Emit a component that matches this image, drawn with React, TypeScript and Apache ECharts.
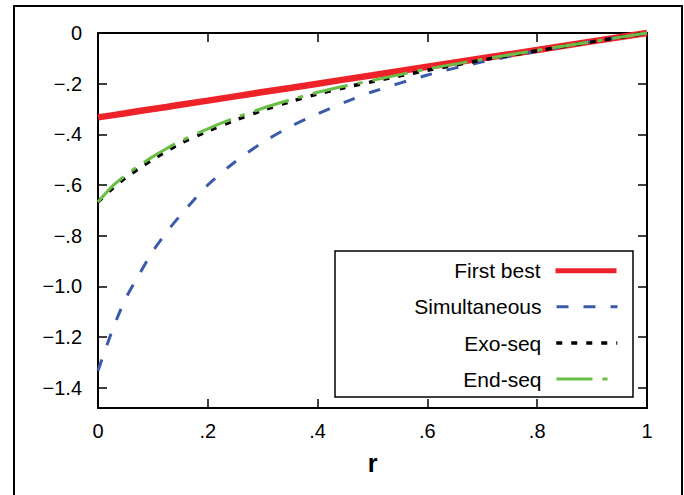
import React, { useEffect, useRef } from "react";
import * as echarts from "echarts";

const FONT = '"Liberation Sans", Arial, Helvetica, sans-serif';

// r values (x axis)
const rValues = [0, 0.025, 0.05, 0.075, 0.1, 0.125, 0.15, 0.2, 0.25, 0.3, 0.35, 0.4, 0.45, 0.5, 0.6, 0.7, 0.8, 0.9, 1];

// series values
const firstBest = [-0.333, -0.325, -0.317, -0.308, -0.3, -0.292, -0.283, -0.267, -0.25, -0.233, -0.217, -0.2, -0.183, -0.167, -0.133, -0.1, -0.067, -0.033, 0];
const simultaneous = [-1.333, -1.18, -1.05, -0.953, -0.861, -0.786, -0.72, -0.6, -0.508, -0.432, -0.37, -0.319, -0.273, -0.232, -0.166, -0.114, -0.072, -0.034, 0];
const exoSeq = [-0.667, -0.616, -0.572, -0.534, -0.499, -0.466, -0.436, -0.387, -0.344, -0.305, -0.271, -0.241, -0.215, -0.192, -0.147, -0.107, -0.07, -0.035, 0];
const endSeq = [-0.667, -0.607, -0.562, -0.523, -0.488, -0.456, -0.427, -0.378, -0.335, -0.297, -0.264, -0.234, -0.209, -0.187, -0.142, -0.104, -0.068, -0.034, 0];

const seriesNames = ["First best", "Simultaneous", "Exo-seq", "End-seq"];

// tick labels
const xTickLabels = ["0", ".2", ".4", ".6", ".8", "1"];
const yTickLabels = ["0", "\u2212.2", "\u2212.4", "\u2212.6", "\u2212.8", "\u22121.0", "\u22121.2", "\u22121.4"];
const xAxisTitle = "r";

const pairs = (ys: number[]) => rValues.map((r, i) => [r, ys[i]]);

const fmtX = (v: number) => {
  const k = Math.round(v / 0.2);
  if (Math.abs(v - k * 0.2) > 1e-6) return "";
  return xTickLabels[k] ?? "";
};
const fmtY = (v: number) => {
  const k = Math.round(-v / 0.2);
  if (Math.abs(-v - k * 0.2) > 1e-6) return "";
  return yTickLabels[k] ?? "";
};

export default function App() {
  const ref = useRef<HTMLDivElement>(null);
  useEffect(() => {
    if (!ref.current) return;
    const chart = echarts.init(ref.current, undefined, { renderer: "svg" });

    const axisLine = { show: true, onZero: false, lineStyle: { color: "#000", width: 2 } };
    const axisTick = { show: true, inside: true, length: 9, lineStyle: { color: "#000", width: 1.5 } };

    const legendRows = [258.7, 294.7, 331, 367];
    const legendLineWidths = [5, 3, 3.5, 3];
    const legends = seriesNames.map((name, i) => ({
      data: [name],
      right: 65,
      top: legendRows[i],
      orient: "horizontal",
      align: "right",
      padding: 0,
      itemWidth: 61,
      itemHeight: 14,
      selectedMode: false,
      itemStyle: { opacity: 0 },
      lineStyle: { width: legendLineWidths[i] },
      textStyle: {
        fontSize: 21,
        fontFamily: FONT,
        color: "#000",
        lineHeight: 24,
        padding: [0, 10, 0, 0],
      },
    }));

    const common = {
      type: "line",
      showSymbol: false,
      symbol: "none",
      clip: false,
      smooth: 0.3,
    };

    chart.setOption({
      animation: false,
      backgroundColor: "#fff",
      grid: { left: 98, right: 37, top: 33, bottom: 87, containLabel: false },
      legend: legends,
      xAxis: [
        {
          type: "value",
          min: 0,
          max: 1,
          interval: 0.2,
          position: "bottom",
          axisLine,
          axisTick,
          splitLine: { show: false },
          axisLabel: { fontSize: 20, fontFamily: FONT, color: "#000", margin: 13, formatter: fmtX },
          name: xAxisTitle,
          nameLocation: "middle",
          nameGap: 42,
          nameTextStyle: { fontSize: 25, fontWeight: "bold", fontFamily: FONT, color: "#000" },
        },
        {
          type: "value",
          min: 0,
          max: 1,
          interval: 0.2,
          position: "top",
          axisLine,
          axisTick,
          splitLine: { show: false },
          axisLabel: { show: false },
        },
      ],
      yAxis: [
        {
          type: "value",
          min: -1.48,
          max: 0,
          splitNumber: 7,
          minInterval: 0.2,
          maxInterval: 0.2,
          position: "left",
          axisLine,
          axisTick,
          splitLine: { show: false },
          axisLabel: { fontSize: 20, fontFamily: FONT, color: "#000", margin: 16, formatter: fmtY },
        },
        {
          type: "value",
          min: -1.48,
          max: 0,
          splitNumber: 7,
          minInterval: 0.2,
          maxInterval: 0.2,
          position: "right",
          axisLine,
          axisTick,
          splitLine: { show: false },
          axisLabel: { show: false },
        },
      ],
      series: [
        {
          ...common,
          smooth: false,
          name: seriesNames[0],
          data: pairs(firstBest),
          z: 2,
          lineStyle: { color: "#ee2229", width: 6.5, type: "solid" },
          itemStyle: { color: "#ee2229" },
        },
        {
          ...common,
          name: seriesNames[1],
          data: pairs(simultaneous),
          z: 3,
          lineStyle: { color: "#3b5aa8", width: 3, type: [12, 15] },
          itemStyle: { color: "#3b5aa8" },
        },
        {
          ...common,
          name: seriesNames[2],
          data: pairs(exoSeq),
          z: 4,
          lineStyle: { color: "#000", width: 3.5, type: [6, 9] },
          itemStyle: { color: "#000" },
        },
        {
          ...common,
          name: seriesNames[3],
          data: pairs(endSeq),
          z: 5,
          lineStyle: { color: "#6abd45", width: 3, type: [36, 10, 5, 10] },
          itemStyle: { color: "#6abd45" },
        },
      ],
      graphic: [
        {
          type: "rect",
          shape: { x: 14, y: 6, width: 668, height: 560 },
          style: { fill: "none", stroke: "#000", lineWidth: 2 },
          silent: true,
          z: 0,
        },
        {
          type: "rect",
          shape: { x: 335, y: 251, width: 298, height: 146 },
          style: { fill: "#fff", stroke: "#000", lineWidth: 1.5 },
          silent: true,
          z: 1,
        },
      ],
    });
    return () => chart.dispose();
  }, []);
  return <div ref={ref} style={{ position: "fixed", left: 0, top: 0, width: 684, height: 495 }} />;
}
